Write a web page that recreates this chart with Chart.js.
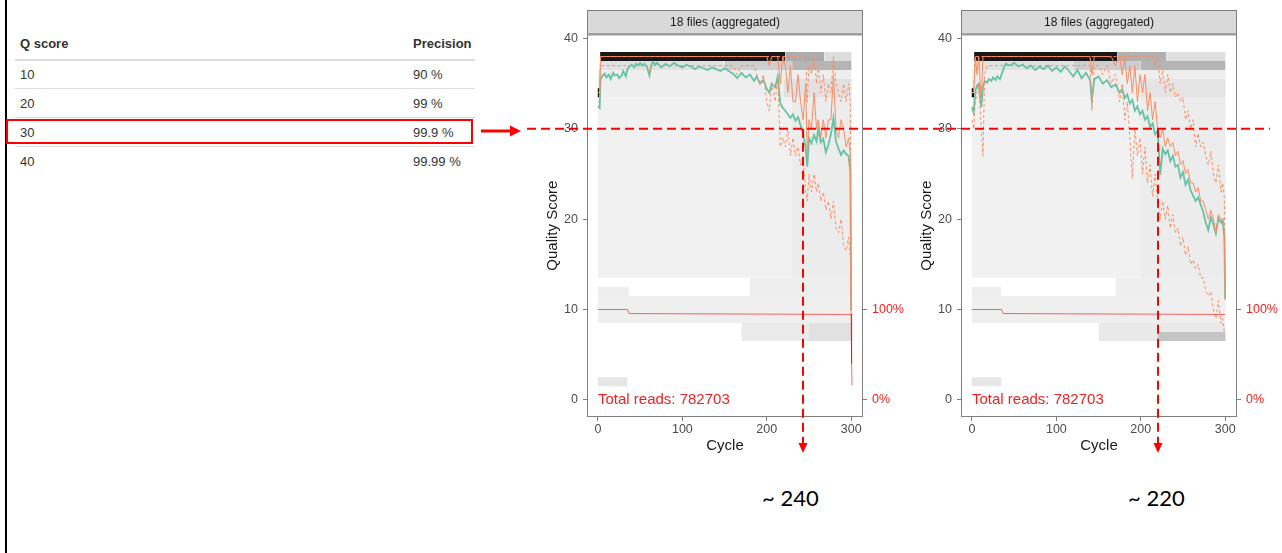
<!DOCTYPE html>
<html>
<head>
<meta charset="utf-8">
<script src="https://cdn.jsdelivr.net/npm/chart.js@4.4.1/dist/chart.umd.min.js"></script>
<style>
  html, body { margin: 0; padding: 0; background: #fff; }
  body { width: 1282px; height: 553px; position: relative; overflow: hidden;
         font-family: "Liberation Sans", Arial, sans-serif; }
  #leftRule { position: absolute; left: 5px; top: 0; width: 2px; height: 553px; background: #000; }
  .cell { position: absolute; height: 18px; line-height: 18px; font-size: 13px; color: #333; white-space: nowrap; }
  .head { font-weight: bold; }
  .rule { position: absolute; left: 15px; width: 460px; background: #ddd; }
  #hiRow { position: absolute; left: 6px; top: 119px; width: 467px; height: 25px;
           border: 2px solid #ff0000; box-sizing: border-box; }
  .approx { position: absolute; font-family: Lato, "Open Sans", sans-serif; font-size: 22px;
            line-height: 26px; color: #000; }
  canvas { position: absolute; top: 0; }
  #c1 { left: 530px; }
  #c2 { left: 904px; }
  #overlay { position: absolute; left: 0; top: 0; pointer-events: none; }
</style>
</head>
<body>
<div id="leftRule"></div>
<div id="table"></div>
<div id="hiRow"></div>

<canvas id="c1" width="380" height="470"></canvas>
<canvas id="c2" width="378" height="470"></canvas>

<div class="approx" style="left:762px; top:485px;">~ 240</div>
<div class="approx" style="left:1128px; top:485px;">~ 220</div>

<svg id="overlay" width="1282" height="553">
  <line id="qLine" x1="527" x2="1270" y1="129.5" y2="129.5" stroke="#ff0000" stroke-width="2" stroke-dasharray="9 5"/>
  <line x1="481" y1="131" x2="512" y2="131" stroke="#ff0000" stroke-width="3"/>
  <polygon points="510,125.5 521,131 510,136.5" fill="#ff0000"/>
</svg>

<script>
// table on the left
const tableHead = ['Q score', 'Precision'];
const qScores = ['10', '20', '30', '40'];
const precisions = ['90 %', '99 %', '99.9 %', '99.99 %'];

// shared plot settings
const qCut = 30;
const totalReads = 782703;
const cutCycle1 = 243;
const cutCycle2 = 220.5;
const xTicks = [0, 100, 200, 300];
const yTicks = [0, 10, 20, 30, 40];
const pctTicks = [0, 10];
const pctLabels = ['0%', '100%'];

// ---- left plot (cycle, mean, median, quartiles)
const cycles1 = [
  0, 2, 3, 5, 8, 10, 13, 15, 18, 20,
  23, 25, 28, 30, 33, 35, 37, 40, 43, 45,
  48, 50, 53, 55, 58, 61, 63, 65, 68, 70,
  75, 80, 85, 90, 95, 100, 105, 110, 115, 120,
  125, 130, 135, 140, 145, 150, 155, 160, 165, 170,
  175, 180, 185, 188, 192, 196, 200, 203, 206, 210,
  213, 216, 219, 222, 225, 228, 231, 234, 237, 240,
  243, 246, 248, 250, 253, 256, 259, 261, 264, 267,
  270, 273, 276, 279, 282, 285, 288, 291, 294, 297,
  299, 300];
const mean1 = [
  32.5, 32.3, 35.5, 35.8, 36.1, 35.7, 36.0, 35.5, 36.2, 35.9,
  36.0, 35.6, 35.9, 36.4, 35.8, 36.6, 36.9, 37.1, 36.8, 37.2,
  37.0, 37.3, 37.0, 37.2, 36.9, 35.9, 37.0, 37.4, 37.1, 37.3,
  36.8, 37.2, 36.9, 37.3, 37.0, 36.8, 37.1, 36.9, 36.6, 36.9,
  36.7, 36.5, 36.8, 36.6, 36.4, 36.7, 36.4, 36.1, 35.6, 36.2,
  35.7, 36.0, 35.3, 35.8, 35.0, 35.4, 34.4, 34.0, 35.0, 34.6,
  35.8, 32.8, 32.3, 32.0, 31.6, 31.2, 31.6, 30.9, 31.3, 30.4,
  29.5, 27.8, 25.8, 29.0, 28.4, 29.3, 28.6, 30.0, 28.5, 28.9,
  27.4, 28.2, 29.4, 31.2, 28.6, 27.8, 27.1, 27.6, 27.2, 27.0,
  25.2, 10.0];
const median1 = [
  34, 34, 38, 38, 38, 38, 38, 38, 38, 38,
  38, 38, 38, 38, 38, 38, 38, 38, 38, 38,
  38, 38, 38, 38, 38, 38, 38, 38, 38, 38,
  38, 38, 38, 38, 38, 38, 38, 38, 38, 38,
  38, 38, 38, 38, 38, 38, 38, 38, 38, 38,
  38, 38, 38, 38, 38, 38, 38, 37, 38, 38,
  38, 35, 38, 37, 34, 37, 33, 33, 36, 33,
  31, 35, 27, 31, 30, 34, 30, 31, 29, 31,
  29, 31, 31, 36, 30, 29, 31, 30, 28, 29,
  27, 9.5];
const q25_1 = [
  33, 33, 37, 37, 37, 37, 37, 37, 37, 37,
  37, 37, 37, 37, 37, 37, 37, 37, 37, 37,
  37, 37, 37, 37, 37, 36, 37, 37, 37, 37,
  37, 37, 37, 37, 37, 37, 37, 37, 37, 37,
  37, 37, 37, 37, 37, 37, 37, 37, 36, 37,
  37, 37, 37, 36, 35, 36, 33, 32, 35, 33,
  36, 28, 29, 28, 30, 27, 29, 27, 28, 26,
  27, 23, 22, 25, 23, 25, 23, 24, 22, 23,
  21, 22, 20, 22, 19, 18.5, 20, 17, 16.5, 18,
  16, 9];
const q75_1 = [
  34, 34, 38, 38, 38, 38, 38, 38, 38, 38,
  38, 38, 38, 38, 38, 38, 38, 38, 38, 38,
  38, 38, 38, 38, 38, 38, 38, 38, 38, 38,
  38, 38, 38, 38, 38, 38, 38, 38, 38, 38,
  38, 38, 38, 38, 38, 38, 38, 38, 38, 38,
  38, 38, 38, 38, 38, 38, 38, 38, 38, 38,
  38, 38, 38, 38, 38, 38, 38, 38, 38, 38,
  38, 38, 33, 37, 36, 38, 35, 37, 34, 36,
  33, 35, 34, 38, 35, 34, 33, 35, 33, 35,
  33, 10];
const readCycles1 = [0, 35, 37, 300, 300.5, 301];
const readQ1 = [10, 10, 9.55, 9.45, 4, 1.6];
// heatmap tiles (cycle from/to, quality from/to, darkness 0..1)
const heat1X0 = [-0.5, -0.5, 230, 2.5, 150, 230, 2.5, 222, 268, -0.5, 220, -0.5, -0.5, 180, 170, 250, -0.5];
const heat1X1 = [300.5, 300.5, 300.5, 150, 230, 300.5, 222, 268, 300.5, 2.5, 300.5, 300.5, 37, 300.5, 300.5, 300.5, 35];
const heat1Lo = [13.5, 33.5, 13.5, 36.5, 36.5, 36.5, 37.5, 37.5, 37.5, 33.5, 33.5, 8.5, 11.5, 11.5, 6.5, 6.5, 1.5];
const heat1Hi = [33.5, 36.5, 33.5, 37.5, 37.5, 37.5, 38.5, 38.5, 38.5, 34.5, 35.5, 11.5, 12.5, 13.5, 8.5, 8.5, 2.5];
const heat1Level = [0.015, 0.03, 0.035, 0.08, 0.16, 0.26, 0.9, 0.3, 0.1, 0.95, 0.08, 0.025, 0.03, 0.03, 0.045, 0.08, 0.06];

// ---- right plot
const cycles2 = [
  0, 2, 4, 6, 8, 11, 13, 15, 18, 20,
  23, 25, 28, 30, 33, 35, 38, 40, 45, 50,
  55, 60, 65, 70, 75, 80, 85, 90, 95, 100,
  105, 110, 115, 120, 125, 130, 135, 140, 142, 145,
  150, 155, 160, 165, 170, 175, 178, 181, 184, 187,
  190, 193, 196, 199, 202, 205, 208, 211, 214, 217,
  220, 223, 226, 229, 232, 235, 238, 241, 244, 247,
  250, 253, 256, 259, 262, 265, 268, 271, 274, 277,
  280, 283, 286, 289, 292, 295, 297, 299, 300];
const mean2 = [
  32.4, 31.8, 34.2, 34.8, 35.0, 32.4, 34.6, 35.3, 35.1, 35.5,
  35.3, 35.7, 35.4, 35.8, 35.5, 36.0, 36.8, 37.2, 37.0, 37.3,
  36.9, 37.1, 36.7, 37.0, 36.5, 36.9, 36.6, 37.0, 36.4, 36.8,
  36.3, 36.9, 36.4, 35.8, 36.5, 35.6, 36.2, 35.4, 33.2, 35.5,
  35.8, 35.0, 35.4, 34.6, 34.9, 34.0, 34.4, 33.4, 33.8, 32.8,
  33.2, 32.0, 32.5, 31.6, 32.0, 31.0, 31.4, 30.2, 30.6, 29.4,
  29.8, 24.9, 27.8, 27.2, 27.6, 26.4, 27.0, 25.8, 26.0, 24.6,
  25.2, 23.8, 24.4, 23.2, 22.6, 22.0, 22.4, 21.6, 20.8, 19.6,
  18.8, 20.2, 19.4, 18.4, 20.1, 19.6, 19.9, 18.0, 11.2];
const median2 = [
  34, 34, 38, 36, 38, 33, 38, 38, 38, 38,
  38, 38, 38, 38, 38, 38, 38, 38, 38, 38,
  38, 38, 38, 38, 38, 38, 38, 38, 38, 38,
  38, 38, 38, 38, 38, 38, 38, 38, 36, 38,
  38, 38, 38, 38, 37, 38, 36, 38, 35, 37,
  34, 37, 33, 36, 34, 36, 32, 34, 31, 33,
  30, 29, 30, 28, 29, 28, 28.5, 27, 27.5, 26,
  26.5, 25, 25.5, 24, 24, 23, 23.5, 22, 22, 21,
  20, 21, 20, 18.5, 20.5, 20, 20, 18.5, 11];
const q25_2 = [
  31, 30, 33, 34, 35, 30, 27, 36, 37, 37,
  37, 37, 37, 37, 37, 37, 37, 37, 37, 37,
  37, 37, 37, 37, 37, 37, 37, 37, 37, 37,
  37, 37, 37, 37, 37, 37, 37, 37, 32, 37,
  37, 36, 37, 35, 36, 33, 35, 31, 33, 29,
  24.5, 30, 27, 29, 25, 28, 24, 26, 22.5, 25,
  22, 20, 22, 20, 21.5, 19, 20.5, 18.5, 19, 17,
  18, 16, 17, 15, 15.5, 14.5, 15, 13.5, 13.5, 12,
  11.5, 12, 10, 9, 11, 8.5, 9, 7.5, 7.5];
const q75_2 = [
  34, 34, 38, 38, 38, 38, 38, 38, 38, 38,
  38, 38, 38, 38, 38, 38, 38, 38, 38, 38,
  38, 38, 38, 38, 38, 38, 38, 38, 38, 38,
  38, 38, 38, 38, 38, 38, 38, 38, 38, 38,
  38, 38, 38, 38, 38, 38, 38, 38, 38, 38,
  38, 38, 38, 38, 38, 38, 38, 38, 38, 37,
  38, 35, 36.5, 34, 36, 34, 35, 33.5, 34, 33,
  33.5, 31, 32, 30, 31, 28, 29.5, 28, 28.5, 27,
  26, 27.5, 25, 24, 26, 23, 24, 22.5, 12];
const readCycles2 = [0, 35, 37, 300];
const readQ2 = [10, 10, 9.55, 9.45];
const heat2X0 = [-0.5, -0.5, 200, 2.5, 120, 200, 2.5, 172, 230, -0.5, 200, -0.5, -0.5, 170, 150, 220, -0.5];
const heat2X1 = [300.5, 300.5, 300.5, 120, 200, 300.5, 172, 230, 300.5, 2.5, 300.5, 300.5, 35, 300.5, 300.5, 300.5, 35];
const heat2Lo = [13.5, 33.5, 13.5, 36.5, 36.5, 36.5, 37.5, 37.5, 37.5, 33.5, 33.5, 8.5, 11.5, 11.5, 6.5, 6.5, 1.5];
const heat2Hi = [33.5, 36.5, 33.5, 37.5, 37.5, 37.5, 38.5, 38.5, 38.5, 34.5, 35.5, 11.5, 12.5, 13.5, 8.5, 7.5, 2.5];
const heat2Level = [0.015, 0.03, 0.035, 0.08, 0.16, 0.26, 0.9, 0.28, 0.09, 0.95, 0.07, 0.025, 0.03, 0.03, 0.05, 0.2, 0.06];

const RED = '#ee2222';
const GREEN = '#66C2A5';
const ORANGE = '#FC8D62';
const FRAME = '#7f7f7f';

Chart.defaults.font.family = '"Liberation Sans", Arial, sans-serif';

// build the table
const tbl = document.getElementById('table');
function cell(text, x, y, cls) {
  const d = document.createElement('div');
  d.className = 'cell ' + (cls || '');
  d.style.left = x + 'px';
  d.style.top = (y - 9) + 'px';
  d.textContent = text;
  tbl.appendChild(d);
}
function rule(y, h) {
  const d = document.createElement('div');
  d.className = 'rule';
  d.style.top = y + 'px';
  d.style.height = h + 'px';
  tbl.appendChild(d);
}
cell(tableHead[0], 20, 44, 'head');
cell(tableHead[1], 413, 44, 'head');
rule(59, 2);
qScores.forEach((q, i) => {
  if (i > 0) rule(88 + 29 * (i - 1), 1);
  cell(q, 20, 75 + 29 * i);
  cell(precisions[i], 413, 75 + 29 * i);
});

const pts = (xs, ys) => xs.map((x, i) => ({x: x, y: ys[i]}));

function heatSets(x0s, x1s, los, his, levels) {
  return x0s.map((x0, i) => {
    const v = Math.round(245 * (1 - levels[i]));
    return {
      data: [{x: x0, y: his[i]}, {x: x1s[i], y: his[i]}],
      fill: {value: los[i]},
      backgroundColor: `rgb(${v},${v},${v})`,
      borderWidth: 0,
      pointRadius: 0,
      order: 1000 - i
    };
  });
}

const panelPlugin = {
  id: 'panel',
  beforeDraw(chart) {
    const {ctx, chartArea: a} = chart;
    ctx.save();
    ctx.fillStyle = '#d9d9d9';
    ctx.fillRect(a.left, 10, a.right - a.left, a.top - 10);
    ctx.strokeStyle = FRAME;
    ctx.lineWidth = 1;
    ctx.strokeRect(a.left + 0.5, 10.5, a.right - a.left - 1, a.top - 11);
    ctx.restore();
  },
  afterDatasetsDraw(chart, args, opts) {
    const {ctx, chartArea: a, scales} = chart;
    ctx.save();
    ctx.fillStyle = RED;
    ctx.font = '15px "Liberation Sans", Arial, sans-serif';
    ctx.textBaseline = 'middle';
    ctx.fillText('Total reads: ' + opts.reads, scales.x.getPixelForValue(0), scales.y.getPixelForValue(0));
    ctx.strokeStyle = FRAME;
    ctx.lineWidth = 1;
    ctx.strokeRect(a.left + 0.5, a.top + 0.5, a.right - a.left - 1, a.bottom - a.top - 1);
    ctx.restore();
  },
  afterDraw(chart, args, opts) {
    const {ctx, scales} = chart;
    const x = Math.round(scales.x.getPixelForValue(opts.cut));
    const y0 = scales.y.getPixelForValue(opts.q);
    ctx.save();
    ctx.strokeStyle = '#ff0000';
    ctx.lineWidth = 2;
    ctx.setLineDash([9, 5]);
    ctx.beginPath();
    ctx.moveTo(x, y0);
    ctx.lineTo(x, 444);
    ctx.stroke();
    ctx.setLineDash([]);
    ctx.fillStyle = '#ff0000';
    ctx.beginPath();
    ctx.moveTo(x - 4.5, 443);
    ctx.lineTo(x + 4.5, 443);
    ctx.lineTo(x, 453);
    ctx.closePath();
    ctx.fill();
    ctx.restore();
  }
};

function makeChart(id, d) {
  const tickGrid = {drawOnChartArea: false, drawTicks: true, tickLength: 4, color: FRAME};
  return new Chart(document.getElementById(id), {
    type: 'line',
    plugins: [panelPlugin],
    data: {
      datasets: [
        {data: pts(d.readCycles, d.readQ), borderColor: 'rgba(255,0,0,0.6)', borderWidth: 1, order: 1},
        {data: pts(d.cycles, d.q75), borderColor: ORANGE, borderWidth: 1, borderDash: [3, 2.5], order: 2},
        {data: pts(d.cycles, d.q25), borderColor: ORANGE, borderWidth: 1, borderDash: [3, 2.5], order: 3},
        {data: pts(d.cycles, d.median), borderColor: ORANGE, borderWidth: 1, order: 4},
        {data: pts(d.cycles, d.mean), borderColor: GREEN, borderWidth: 1.8, order: 5},
        ...d.heat
      ]
    },
    options: {
      responsive: false,
      animation: false,
      devicePixelRatio: 1,
      layout: {padding: {top: 10, left: 0, right: 0, bottom: 0}},
      elements: {point: {radius: 0}, line: {tension: 0, fill: false}},
      plugins: {
        legend: {display: false},
        tooltip: {enabled: false},
        title: {
          display: true, text: '18 files (aggregated)', fullSize: false,
          color: '#1a1a1a', font: {size: 12, weight: 'normal'}, padding: {top: 5, bottom: 5}
        },
        panel: {reads: totalReads, cut: d.cut, q: qCut}
      },
      scales: {
        x: {
          type: 'linear', position: 'bottom', min: -13, max: 314,
          afterBuildTicks: s => { s.ticks = xTicks.map(v => ({value: v})); },
          afterFit: s => { s.height = 53; },
          grid: tickGrid, border: {display: false},
          ticks: {color: '#4d4d4d', font: {size: 12.5}, padding: 1, maxRotation: 0},
          title: {display: true, text: 'Cycle', color: '#1a1a1a', font: {size: 15}, padding: {top: 0, bottom: 15}}
        },
        y: {
          type: 'linear', position: 'left', min: -1.9, max: 40.45,
          afterBuildTicks: s => { s.ticks = yTicks.map(v => ({value: v})); },
          afterFit: s => { s.width = 57; },
          grid: tickGrid, border: {display: false},
          ticks: {color: '#4d4d4d', font: {size: 12.5}, padding: 5},
          title: {display: true, text: 'Quality Score', color: '#1a1a1a', font: {size: 15}, padding: {top: 14, bottom: 0}}
        },
        y2: {
          type: 'linear', position: 'right', min: -1.9, max: 40.45,
          afterBuildTicks: s => { s.ticks = pctTicks.map(v => ({value: v})); },
          afterFit: s => { s.width = d.rightW; },
          grid: tickGrid, border: {display: false},
          ticks: {color: RED, font: {size: 12.5}, padding: 5,
                  callback: v => pctLabels[pctTicks.indexOf(v)]}
        }
      }
    }
  });
}

const chart1 = makeChart('c1', {
  cycles: cycles1, mean: mean1, median: median1, q25: q25_1, q75: q75_1,
  readCycles: readCycles1, readQ: readQ1, cut: cutCycle1, rightW: 47,
  heat: heatSets(heat1X0, heat1X1, heat1Lo, heat1Hi, heat1Level)
});
const chart2 = makeChart('c2', {
  cycles: cycles2, mean: mean2, median: median2, q25: q25_2, q75: q75_2,
  readCycles: readCycles2, readQ: readQ2, cut: cutCycle2, rightW: 45,
  heat: heatSets(heat2X0, heat2X1, heat2Lo, heat2Hi, heat2Level)
});

// horizontal Q30 guide across both panels
const yq = chart1.scales.y.getPixelForValue(qCut);
const qLine = document.getElementById('qLine');
qLine.setAttribute('y1', yq);
qLine.setAttribute('y2', yq);
</script>
</body>
</html>
